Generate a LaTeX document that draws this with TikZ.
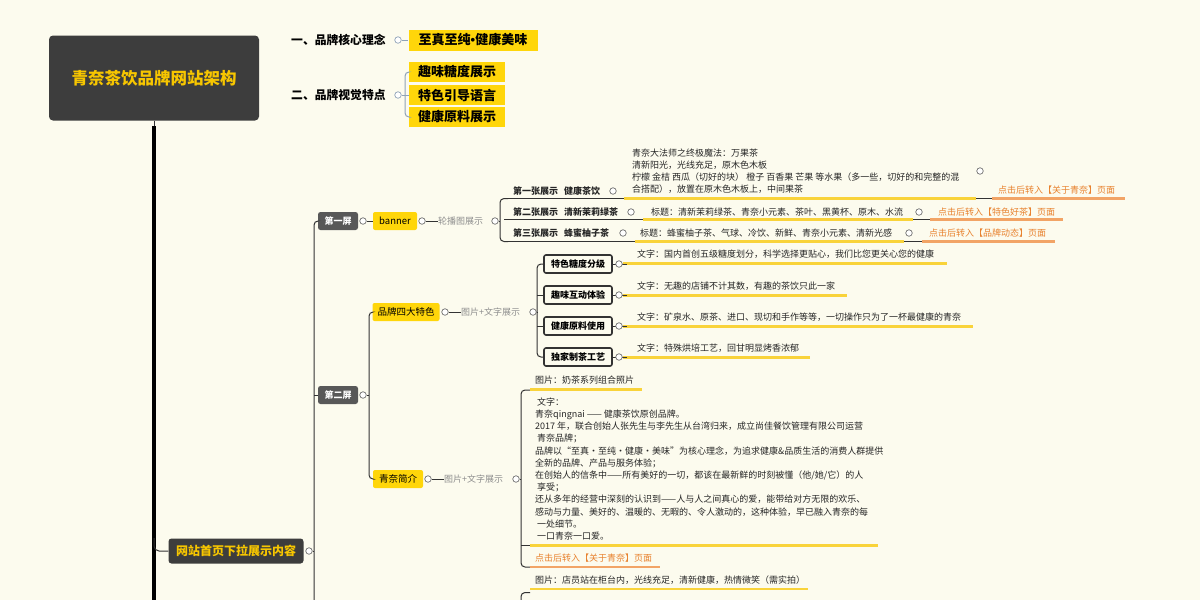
\documentclass[tikz,border=0pt]{standalone}
\usepackage{fontspec}
\setmainfont{Noto Sans CJK SC}
\newfontfamily\latinfont{Liberation Sans}
\usetikzlibrary{positioning}

\definecolor{paper}{HTML}{FCFBEE}
\definecolor{darkbox}{HTML}{3D3D3D}
\definecolor{greybox}{HTML}{585858}
\definecolor{gold}{HTML}{F7C600}
\definecolor{yelbox}{HTML}{FFD60A}
\definecolor{yelline}{HTML}{F9D33A}
\definecolor{orgtext}{HTML}{E8812D}
\definecolor{orgline}{HTML}{F2A466}
\definecolor{inktext}{HTML}{262626}
\definecolor{notegrey}{HTML}{8E8E8E}
\definecolor{linkgrey}{HTML}{333333}
\definecolor{bluegrey}{HTML}{8FA3B8}

\begin{document}
\begin{tikzpicture}[x=1pt, y=-1pt,
    every node/.style={font=\fontsize{9}{12.2}\selectfont},
    rootbox/.style={fill=darkbox, rounded corners=4pt, minimum width=210pt, minimum height=85pt,
        text=gold, font=\fontsize{16.5}{20}\selectfont\bfseries},
    homebox/.style={fill=darkbox, rounded corners=3pt, minimum width=135pt, minimum height=25pt,
        text=gold, font=\fontsize{12}{14}\selectfont\bfseries},
    screenbox/.style={fill=greybox, rounded corners=2.5pt, minimum width=40pt, minimum height=18pt,
        inner sep=0pt, text=white, font=\fontsize{9}{11}\selectfont\bfseries},
    ybox/.style={fill=yelbox, rounded corners=2pt, minimum height=18pt, inner sep=0pt,
        text=black, font=\fontsize{9.5}{11}\selectfont},
    bigybox/.style={fill=yelbox, minimum height=20pt, inner sep=0pt,
        text=black, font=\fontsize{13}{15}\selectfont\bfseries},
    wbox/.style={draw=linkgrey, line width=1.6pt, fill=paper, rounded corners=2pt,
        minimum width=68pt, minimum height=18pt, inner sep=0pt, font=\fontsize{9}{11}\selectfont\bfseries},
    knob/.style={circle, draw=linkgrey!70, fill=white, line width=0.7pt, inner sep=0pt, minimum size=6.5pt},
    bknob/.style={knob, draw=bluegrey},
    txt/.style={anchor=west, inner sep=0pt, text=inktext},
    txtb/.style={txt, font=\fontsize{9}{11}\selectfont\bfseries},
    headtxt/.style={txt, text=black, font=\fontsize{11.8}{14}\selectfont\bfseries},
    note/.style={txt, text=notegrey},
    ltxt/.style={txt, text=orgtext},
    conn/.style={draw=linkgrey, line width=1pt},
    bconn/.style={draw=bluegrey, line width=1pt},
    uldark/.style={draw=linkgrey, line width=1.6pt},
    ulyel/.style={draw=yelline, line width=2.2pt},
    ulorg/.style={draw=orgline, line width=2.2pt}]

  \fill[paper] (0,0) rectangle (1200,600);
  \useasboundingbox (0,0) rectangle (1200,600);

  % root and trunk
  \node[rootbox] (root) at (154,78) {青奈茶饮品牌网站架构};
  \draw[conn] (root.south) -- (154,127);
  \draw[line width=3.5pt, black] (154,126) -- (154,600);
  \node[homebox] (home) at (236,551) {网站首页下拉展示内容};
  \draw[conn, rounded corners=5pt] (154,538) |- (home.west);
  \node[knob] (khome) at (309,551) {};

  % brand ideas on top
  \node[headtxt] (h1) at (291,40) {一、品牌核心理念};
  \node[bknob] (kh1) at (398,40) {};
  \node[bigybox, minimum width=129pt, minimum height=21pt] (h1b) at (473,40) {至真至纯{\latinfont\bfseries •}健康美味};
  \draw[bconn] (kh1.east) -- (h1b.west);
  \node[headtxt] (h2) at (291,95) {二、品牌视觉特点};
  \node[bknob] (kh2) at (398,95) {};
  \node[bigybox, minimum width=96pt] (v1) at (457,72) {趣味糖度展示};
  \node[bigybox, minimum width=96pt] (v2) at (457,95) {特色引导语言};
  \node[bigybox, minimum width=96pt] (v3) at (457,117) {健康原料展示};
  \draw[bconn, rounded corners=4pt] (v1.west) -| (405,117) -- (v3.west);
  \draw[bconn] (kh2.east) -- (v2.west);

  % screens
  \node[screenbox] (s1) at (338,221) {第一屏};
  \node[screenbox] (s2) at (338,395) {第二屏};
  \draw[conn, rounded corners=4pt] (314,600) |- (s1.west);
  \draw[conn] (314,395) -- (s2.west);
  \draw[conn] (khome.east) -- (314,551);

  % first screen: banner
  \node[knob] (ks1) at (363,221) {};
  \node[ybox, minimum width=44pt] (banner) at (395,221) {banner};
  \node[knob] (kban) at (422,221) {};
  \node[note] (lunbo) at (438,221) {轮播图展示};
  \node[knob] (klunbo) at (495,221) {};
  \draw[conn] (ks1.east) -- (banner.west);
  \draw[conn] (kban.east) -- (lunbo.west);
  \draw[conn] (klunbo.east) -- (500,221);
  \draw[conn, rounded corners=4pt] (508,198.5) -| (500,241.5) -- (508,241.5);

  \draw[uldark] (504,198.5) -- (624,198.5);
  \draw[ulyel] (624,198.5) -- (976,198.5);
  \draw[uldark] (976,198.5) -- (992,198.5);
  \draw[ulorg] (992,198.5) -- (1125,198.5);
  \node[txtb] (p1) at (513,191) {第一张展示\hspace{6pt}健康茶饮};
  \node[knob] (kp1) at (613,191) {};
  \node[txt, align=left] (p1t) at (632,171) {青奈大法师之终极魔法：万果茶\\
    清新阳光，光线充足，原木色木板\\
    柠檬 金桔 西瓜（切好的块） 橙子 百香果 芒果 等水果（多一些，切好的和完整的混\\
    合搭配），放置在原木色木板上，中间果茶};
  \node[knob] (kp1t) at (980,171) {};
  \node[ltxt] (p1o) at (998,190) {点击后转入【关于青奈】页面};

  \draw[uldark] (504,219.5) -- (643,219.5);
  \draw[ulyel] (643,219.5) -- (913,219.5);
  \draw[uldark] (913,219.5) -- (930,219.5);
  \draw[ulorg] (930,219.5) -- (1063,219.5);
  \node[txtb] (p2) at (513,212) {第二张展示\hspace{6pt}清新茉莉绿茶};
  \node[knob] (kp2) at (631,212) {};
  \node[txt] (p2t) at (651,212) {标题：清新茉莉绿茶、青奈小元素、茶叶、黑黄杯、原木、水流};
  \node[knob] (kp2t) at (919,212) {};
  \node[ltxt] (p2o) at (938,212) {点击后转入【特色好茶】页面};

  \draw[uldark] (504,241.5) -- (635,241.5);
  \draw[ulyel] (635,241.5) -- (904,241.5);
  \draw[uldark] (904,241.5) -- (922,241.5);
  \draw[ulorg] (922,241.5) -- (1055,241.5);
  \node[txtb] (p3) at (513,233) {第三张展示\hspace{6pt}蜂蜜柚子茶};
  \node[knob] (kp3) at (623,233) {};
  \node[txt] (p3t) at (640,233) {标题：蜂蜜柚子茶、气球、冷饮、新鲜、青奈小元素、清新光感};
  \node[knob] (kp3t) at (909,233) {};
  \node[ltxt] (p3o) at (929,233) {点击后转入【品牌动态】页面};

  % second screen
  \node[knob] (ks2) at (363,395) {};
  \node[ybox, minimum width=67pt] (feat) at (406,312) {品牌四大特色};
  \node[ybox, minimum width=50pt] (intro) at (398,479) {青奈简介};
  \draw[conn, rounded corners=4pt] (feat.west) -| (369,479) -- (intro.west);
  \draw[conn] (ks2.east) -- (369,395);

  \node[knob] (kfeat) at (445,312) {};
  \node[note] (featn) at (461,312) {图片+文字展示};
  \node[knob] (kfeatn) at (533,312) {};
  \draw[conn] (kfeat.east) -- (featn.west);
  \draw[conn] (kfeatn.east) -- (537,312);
  \node[wbox] (c1) at (578,264) {特色糖度分级};
  \node[wbox] (c2) at (578,295) {趣味互动体验};
  \node[wbox] (c3) at (578,326) {健康原料使用};
  \node[wbox] (c4) at (578,357) {独家制茶工艺};
  \draw[conn, rounded corners=4pt] (c1.west) -| (537,357) -- (c4.west);
  \draw[conn] (537,295) -- (c2.west);
  \draw[conn] (537,326) -- (c3.west);

  \draw[ulyel] (623,263.5) -- (947,263.5);
  \draw[ulyel] (623,295.5) -- (847,295.5);
  \draw[ulyel] (623,326.5) -- (973,326.5);
  \draw[ulyel] (623,357.5) -- (810,357.5);
  \draw[conn] (c1.east) -- (627,264);
  \draw[conn] (c2.east) -- (627,295);
  \draw[conn] (c3.east) -- (627,326);
  \draw[conn] (c4.east) -- (627,357);
  \node[knob] (kc1) at (619,264) {};
  \node[knob] (kc2) at (619,295) {};
  \node[knob] (kc3) at (619,326) {};
  \node[knob] (kc4) at (619,357) {};
  \node[txt] (d1) at (637,254.5) {文字：国内首创五级糖度划分，科学选择更贴心，我们比您更关心您的健康};
  \node[txt] (d2) at (637,286.5) {文字：无趣的店铺不计其数，有趣的茶饮只此一家};
  \node[txt] (d3) at (637,317.5) {文字：矿泉水、原茶、进口、现切和手作等等，一切操作只为了一杯最健康的青奈};
  \node[txt] (d4) at (637,348.5) {文字：特殊烘培工艺，回甘明显烤香浓郁};

  % brand introduction
  \node[knob] (kintro) at (428,479) {};
  \node[note] (intron) at (444,479) {图片+文字展示};
  \node[knob] (kintron) at (516,479) {};
  \draw[conn] (kintro.east) -- (intron.west);
  \draw[conn] (kintron.east) -- (521,479);
  \draw[conn, rounded corners=4pt] (530,390) -| (521,567) -- (530,567);
  \draw[conn] (521,545.5) -- (530,545.5);

  \node[txt] (e1) at (535,380.5) {图片：奶茶系列组合照片};
  \draw[ulyel] (530,389.5) -- (642,389.5);
  \node[txt, align=left] (e2) at (535,469) {\hspace{2pt}文字：\\
    青奈qingnai —— 健康茶饮原创品牌。\\
    2017 年，联合创始人张先生与李先生从台湾归来，成立尚佳餐饮管理有限公司运营\\
    \hspace{2pt}青奈品牌；\\
    品牌以“至真·至纯·健康·美味”为核心理念，为追求健康\&品质生活的消费人群提供\\
    全新的品牌、产品与服务体验；\\
    在创始人的信条中——所有美好的一切，都该在最新鲜的时刻被懂（他/她/它）的人\\
    \hspace{2pt}享受；\\
    还从多年的经营中深刻的认识到——人与人之间真心的爱，能带给对方无限的欢乐、\\
    感动与力量、美好的、温暖的、无暇的、令人激动的，这种体验，早已融入青奈的每\\
    \hspace{2pt}一处细节。\\
    \hspace{2pt}一口青奈一口爱。};
  \draw[ulyel] (530,545.5) -- (878,545.5);
  \node[ltxt] (e3) at (535,558.5) {点击后转入【关于青奈】页面};
  \draw[ulorg] (530,567) -- (660,567);

  % next group, cut by the page
  \node[txt] (e4) at (535,580) {图片：店员站在柜台内，光线充足，清新健康，热情微笑（需实拍）};
  \draw[ulyel] (530,589) -- (808,589);
  \draw[conn, rounded corners=4pt] (521,602) |- (530,592.5);
  \node[txt] (e5) at (537,606) {文字：};
\end{tikzpicture}
\end{document}
